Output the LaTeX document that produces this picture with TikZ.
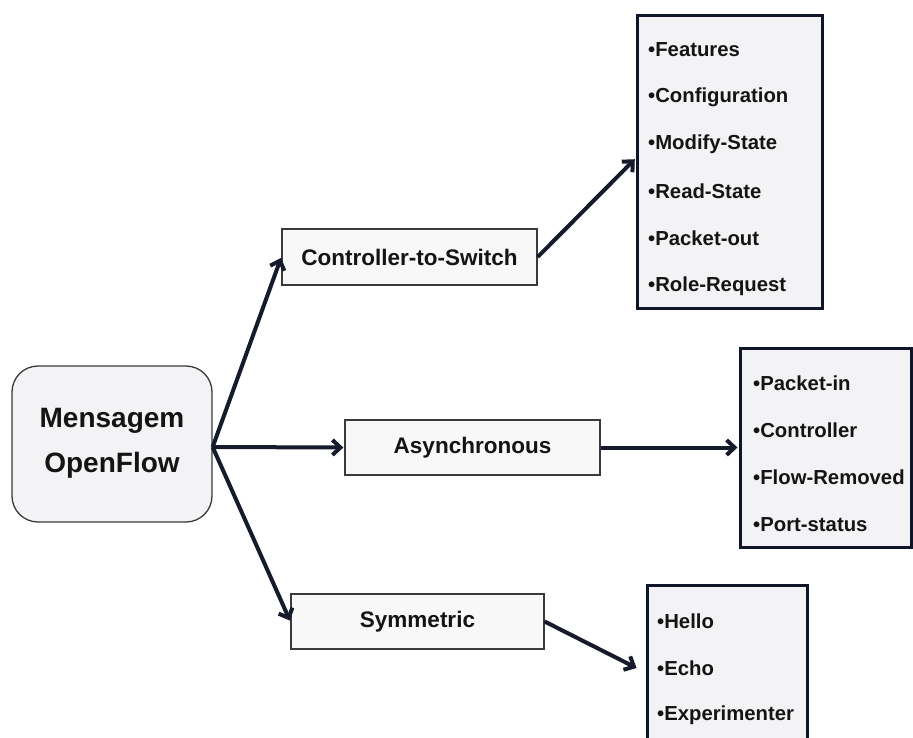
\documentclass[tikz,border=0pt]{standalone}
\usepackage{fontspec}
\setmainfont{Liberation Sans}
\usetikzlibrary{arrows.meta}
\definecolor{arrowc}{HTML}{151B2B}
\definecolor{boxline}{HTML}{3A3A3A}
\definecolor{listline}{HTML}{10162A}
\definecolor{boxfill}{HTML}{F8F8F8}
\definecolor{listfill}{HTML}{F3F3F5}
\definecolor{txt}{HTML}{141414}
\tikzset{
  mainbox/.style={draw=boxline, line width=1.3pt, fill=listfill, rounded corners=26pt,
    minimum width=200pt, minimum height=156pt, inner sep=0pt},
  midbox/.style={draw=boxline, line width=1.3pt, fill=boxfill, minimum height=55pt,
    inner sep=0pt, font=\fontsize{22.5}{27}\selectfont\bfseries, text=txt},
  listbox/.style={draw=listline, line width=3pt, fill=listfill, inner sep=0pt},
  item/.style={anchor=west, inner sep=0pt, font=\fontsize{20.3}{24}\selectfont\bfseries, text=txt},
  conn/.style={draw=arrowc, line width=4pt, -{Straight Barb[length=8pt,width=15pt]}}
}
\begin{document}
\begin{tikzpicture}[x=1pt,y=-1pt]
\useasboundingbox[fill=white] (0,0) rectangle (913,737);
\clip (0,0) rectangle (913,737);
% main box
\node[mainbox] (msg) at (112,444) {};
\node[inner sep=0pt, font=\fontsize{28}{34}\selectfont\bfseries, text=txt] (msg1) at (112,421) {Mensagem};
\node[inner sep=0pt, font=\fontsize{28}{34}\selectfont\bfseries, text=txt] (msg2) at (112,465) {OpenFlow};
\coordinate (src) at ([yshift=-3pt]msg.east);
% middle boxes
\node[midbox, minimum width=255pt, minimum height=56pt] (c2s) at (409.5,257) {Controller-to-Switch};
\node[midbox, minimum width=255pt] (async) at (472.5,447.5) {Asynchronous};
\node[midbox, minimum width=253pt] (sym) at (417.5,621.5) {Symmetric};
% list boxes
\node[listbox, minimum width=185pt, minimum height=293pt] (l1) at (729.5,161.5) {};
\node[listbox, minimum width=171pt, minimum height=199pt] (l2) at (825.5,447.5) {};
\node[listbox, minimum width=160pt, minimum height=175pt] (l3) at (727,672.5) {};
% list items
\node[item] (a1) at (648,50) {•Features};
\node[item] (a2) at (648,97) {•Configuration};
\node[item] (a3) at (648,144) {•Modify-State};
\node[item] (a4) at (648,191) {•Read-State};
\node[item] (a5) at (648,238) {•Packet-out};
\node[item] (a6) at (648,286) {•Role-Request};
\node[item] (b1) at (753,383) {•Packet-in};
\node[item] (b2) at (753,430) {•Controller};
\node[item] (b3) at (753,477) {•Flow-Removed};
\node[item] (b4) at (753,525) {•Port-status};
\node[item] (d1) at (657,621) {•Hello};
\node[item] (d2) at (657,668) {•Echo};
\node[item] (d3) at (657,715) {•Experimenter};
% connectors
\draw[conn, shorten >=1pt] (src) -- (c2s.west);
\draw[conn, shorten >=1pt] (src) -- (async.west);
\draw[conn, shorten >=1pt] (src) -- (sym.west);
\draw[conn, shorten >=1pt] (c2s.east) -- ([yshift=3pt]l1.west);
\draw[conn, shorten >=1pt] (async.east) -- (l2.west);
\draw[conn, shorten >=10pt] (sym.east) -- (l3.west);
\end{tikzpicture}
\end{document}
